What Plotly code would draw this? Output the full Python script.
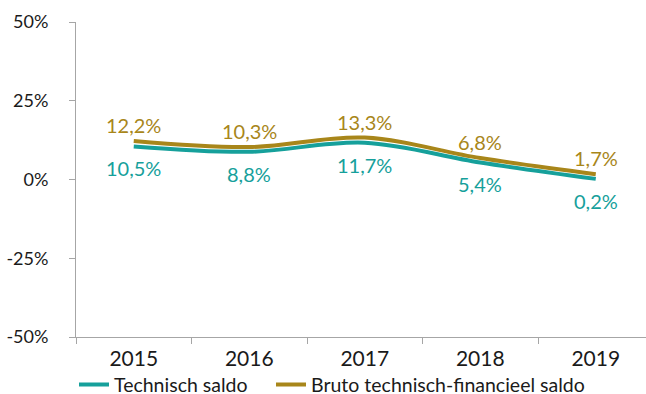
import plotly.graph_objects as go

years = ["2015", "2016", "2017", "2018", "2019"]
technisch = [10.5, 8.8, 11.7, 5.4, 0.2]
bruto = [12.2, 10.3, 13.3, 6.8, 1.7]
y_ticks = [-50, -25, 0, 25, 50]
y_tick_labels = ["-50%", "-25%", "0%", "25%", "50%"]

TEAL = "#16A09B"
GOLD = "#A8861A"
FONT = "Lato, Calibri, sans-serif"

fig = go.Figure()

# (name, values, colour, label offset in px, legend id)
series = [
    ("Technisch saldo", technisch, TEAL, -22, "legend"),
    ("Bruto technisch-financieel saldo", bruto, GOLD, 16, "legend2"),
]

# white halo under each line
for name, vals, color, shift, leg in series:
    fig.add_trace(go.Scatter(
        x=years, y=vals, mode="lines",
        line=dict(color="white", width=8, shape="spline", smoothing=1.0),
        showlegend=False, hoverinfo="skip",
    ))

for name, vals, color, shift, leg in series:
    fig.add_trace(go.Scatter(
        x=years, y=vals, name=name, mode="lines", legend=leg,
        line=dict(color=color, width=4, shape="spline", smoothing=1.0),
    ))
    # value labels, placed by category index on the category axis
    for i, v in enumerate(vals):
        fig.add_annotation(
            x=i, y=v, text=f"{v:.1f}%".replace(".", ","), showarrow=False,
            yshift=shift, font=dict(color=color, size=20, family=FONT),
        )

legend_style = dict(
    orientation="h", xref="container", xanchor="left",
    yref="container", y=0.023, yanchor="middle",
    bgcolor="rgba(0,0,0,0)",
    font=dict(size=19.5, family=FONT), itemwidth=30,
)

fig.update_layout(
    width=646, height=394,
    margin=dict(l=76, r=0, t=22, b=57, autoexpand=False),
    plot_bgcolor="white", paper_bgcolor="white",
    separators=",.",
    font=dict(family=FONT, size=20, color="#1a1a1a"),
    legend=dict(x=74 / 646, **legend_style),
    legend2=dict(x=271 / 646, **legend_style),
)
# the last category runs slightly past the right edge of the canvas
fig.update_xaxes(
    type="category", categoryorder="array", categoryarray=years,
    range=[-0.5, 4.435],
    showline=True, linecolor="#a6a6a6", linewidth=1,
    ticks="outside", tickson="boundaries", ticklen=6, tickcolor="#a6a6a6",
    showgrid=False, zeroline=False, tickangle=0, ticklabelstandoff=3,
    tickfont=dict(size=21),
)
fig.update_yaxes(
    range=[-50, 50], tickvals=y_ticks, ticktext=y_tick_labels,
    showline=True, linecolor="#a6a6a6", linewidth=1,
    ticks="outside", ticklen=6, tickcolor="#a6a6a6",
    showgrid=False, zeroline=False, ticklabelstandoff=17,
    tickfont=dict(size=18),
)

fig.write_html("out.html")
